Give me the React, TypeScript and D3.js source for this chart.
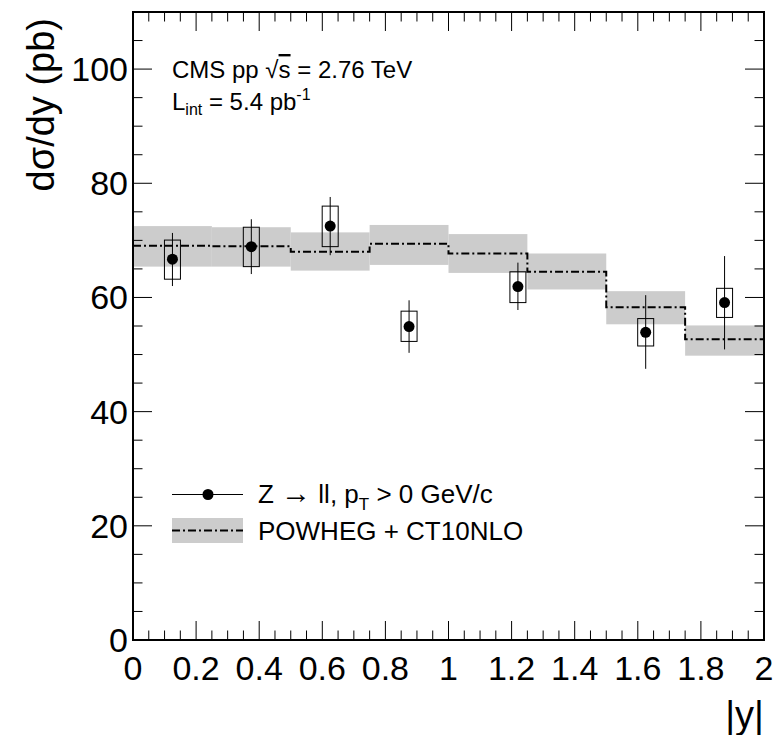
import React from "react";
import * as d3 from "d3";

// ---- data ----
const binEdges = [0, 0.25, 0.5, 0.75, 1.0, 1.25, 1.5, 1.75, 2.0];
const theoryCentral = [69.05, 68.95, 68.0, 69.4, 67.7, 64.5, 58.3, 52.7];
const theoryLow = [65.4, 65.4, 64.7, 65.7, 64.3, 61.4, 55.3, 49.8];
const theoryHigh = [72.5, 72.3, 71.4, 72.7, 71.1, 67.7, 61.1, 55.1];

const dataX = [0.125, 0.375, 0.625, 0.875, 1.22, 1.625, 1.875];
const dataY = [66.7, 68.9, 72.5, 54.9, 61.9, 53.9, 59.1];
const statLow = [62.0, 64.1, 67.4, 50.3, 57.8, 47.5, 50.9];
const statHigh = [71.3, 73.7, 77.6, 59.5, 66.1, 60.4, 67.25];
const systLow = [63.2, 65.4, 68.9, 52.3, 59.1, 51.5, 56.5];
const systHigh = [70.05, 72.3, 76.0, 57.6, 64.5, 56.3, 61.6];

const xTickLabels = ["0", "0.2", "0.4", "0.6", "0.8", "1", "1.2", "1.4", "1.6", "1.8", "2"];
const yTickLabels = ["0", "20", "40", "60", "80", "100"];

// ---- layout ----
const W = 776, H = 735;
const L = 133, R = 764, T = 12, B = 640;
const FONT = "'Liberation Sans', Arial, Helvetica, sans-serif";

export default function App() {
  const x = d3.scaleLinear().domain([0, 2]).range([L, R]);
  const y = d3.scaleLinear().domain([0, 110]).range([B, T]);

  const xMajor = d3.range(0, 2.0001, 0.2);
  const xMinor = d3.range(0, 2.0001, 0.05);
  const yMajor = d3.range(0, 100.001, 20);
  const yMinor = d3.range(0, 110.001, 5);
  const MAJ = 19, MIN = 9.5;

  const stepPts: [number, number][] = [];
  theoryCentral.forEach((v, i) => {
    stepPts.push([binEdges[i], v]);
    stepPts.push([binEdges[i + 1], v]);
  });
  const line = d3.line<[number, number]>().x(d => x(d[0])).y(d => y(d[1]));

  const boxHalf = 8;

  return (
    <svg width={W} height={H} style={{ position: "absolute", left: 0, top: 0, background: "#fff" }} fontFamily={FONT}>
      <rect x={0} y={0} width={W} height={H} fill="#fff" />
      {theoryCentral.map((_, i) => (
        <rect key={"b" + i} x={x(binEdges[i])} y={y(theoryHigh[i])} width={x(binEdges[i + 1]) - x(binEdges[i])}
          height={y(theoryLow[i]) - y(theoryHigh[i])} fill="#cccccc" />
      ))}
      <path d={line(stepPts) || ""} fill="none" stroke="#000" strokeWidth={2} strokeDasharray="8,3,2,3" />

      {dataX.map((dx, i) => (
        <g key={"d" + i}>
          <line x1={x(dx)} x2={x(dx)} y1={y(statHigh[i])} y2={y(statLow[i])} stroke="#000" strokeWidth={1} />
          <rect x={x(dx) - boxHalf} y={y(systHigh[i])} width={boxHalf * 2} height={y(systLow[i]) - y(systHigh[i])}
            fill="none" stroke="#000" strokeWidth={1} />
          <circle cx={x(dx)} cy={y(dataY[i])} r={5.5} fill="#000" />
        </g>
      ))}

      <rect x={L} y={T} width={R - L} height={B - T} fill="none" stroke="#000" strokeWidth={2} />
      {xMinor.map((v, i) => {
        const isMaj = Math.abs(v / 0.2 - Math.round(v / 0.2)) < 1e-6;
        const len = isMaj ? MAJ : MIN;
        return (
          <g key={"xt" + i}>
            <line x1={x(v)} x2={x(v)} y1={B} y2={B - len} stroke="#000" strokeWidth={1} />
            <line x1={x(v)} x2={x(v)} y1={T} y2={T + len} stroke="#000" strokeWidth={1} />
          </g>
        );
      })}
      {yMinor.map((v, i) => {
        const isMaj = Math.abs(v / 20 - Math.round(v / 20)) < 1e-6;
        const len = isMaj ? MAJ : MIN;
        return (
          <g key={"yt" + i}>
            <line x1={L} x2={L + len} y1={y(v)} y2={y(v)} stroke="#000" strokeWidth={1} />
            <line x1={R} x2={R - len} y1={y(v)} y2={y(v)} stroke="#000" strokeWidth={1} />
          </g>
        );
      })}
      {xMajor.map((v, i) => (
        <text key={"xl" + i} x={x(v)} y={B + 40} textAnchor="middle" fontSize={34}>{xTickLabels[i]}</text>
      ))}
      {yMajor.map((v, i) => (
        <text key={"yl" + i} x={L - 5} y={y(v) + 12} textAnchor="end" fontSize={34}>{yTickLabels[i]}</text>
      ))}

      <text transform={`translate(54, 18) rotate(-90)`} textAnchor="end" fontSize={38}>dσ/dy (pb)</text>
      <text x={R} y={728} textAnchor="end" fontSize={38}>|y|</text>

      <text x={172} y={78} fontSize={24}>
        CMS pp √<tspan textDecoration="overline">s</tspan> = 2.76 TeV
      </text>
      <text x={172} y={110} fontSize={24}>
        L<tspan fontSize={16} dy={5}>int</tspan><tspan dy={-5}> = 5.4 pb</tspan><tspan fontSize={16} dy={-10}>-1</tspan>
      </text>

      <line x1={172} x2={243} y1={494.5} y2={494.5} stroke="#000" strokeWidth={1} />
      <circle cx={208} cy={494.5} r={5.5} fill="#000" />
      <text x={258} y={503} fontSize={26}>
        Z <tspan fontSize={30}>→</tspan> ll, p<tspan fontSize={17} dy={7}>T</tspan><tspan dy={-7}> &gt; 0 GeV/c</tspan>
      </text>
      <rect x={172} y={518} width={71} height={25} fill="#cccccc" />
      <line x1={172} x2={243} y1={530.5} y2={530.5} stroke="#000" strokeWidth={2} strokeDasharray="8,3,2,3" />
      <text x={258} y={540} fontSize={26}>POWHEG + CT10NLO</text>
    </svg>
  );
}
